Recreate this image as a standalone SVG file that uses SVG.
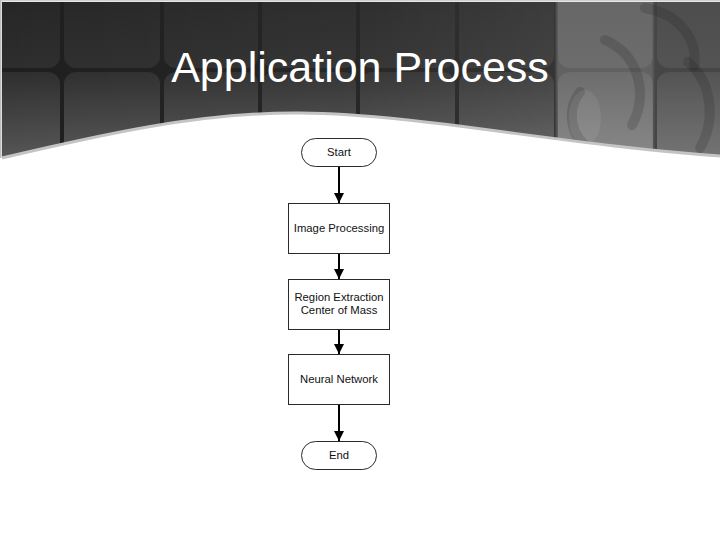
<svg xmlns="http://www.w3.org/2000/svg" width="720" height="540" viewBox="0 0 720 540">
<style>
.node rect{fill:#fff;stroke:#2a2a2a;stroke-width:1}
.node text{font-family:"Liberation Sans",Arial,sans-serif;font-size:11.3px;fill:#111;text-anchor:middle}
.conn line{stroke:#000;stroke-width:2}
.title{font-family:"Liberation Sans",Arial,sans-serif;font-size:43px;fill:#fff;text-anchor:middle}
</style>
<defs>
<linearGradient id="vg" x1="0" y1="0" x2="0" y2="160" gradientUnits="userSpaceOnUse">
<stop offset="0" stop-color="#262626"/>
<stop offset="0.45" stop-color="#2e2e2e"/>
<stop offset="1" stop-color="#575757"/>
</linearGradient>
<linearGradient id="hg" x1="0" y1="0" x2="1" y2="0">
<stop offset="0" stop-color="#fff" stop-opacity="0"/>
<stop offset="0.5" stop-color="#fff" stop-opacity="0.04"/>
<stop offset="0.77" stop-color="#fff" stop-opacity="0.1"/>
<stop offset="0.775" stop-color="#fff" stop-opacity="0.3"/>
<stop offset="0.905" stop-color="#fff" stop-opacity="0.3"/>
<stop offset="0.91" stop-color="#fff" stop-opacity="0.18"/>
<stop offset="1" stop-color="#fff" stop-opacity="0.18"/>
</linearGradient>
<clipPath id="hc">
<path d="M2,2 H720 V156 C560,145 420,114 300,113 C200,112 100,135 2,158 Z"/>
</clipPath>
<marker id="ah" viewBox="0 0 10 10" refX="10" refY="5" markerWidth="5" markerHeight="5" orient="auto" markerUnits="strokeWidth">
<path d="M0,0 L10,5 L0,10 Z" fill="#000"/>
</marker>
</defs>
<rect width="720" height="540" fill="#fff"/>
<g id="header" clip-path="url(#hc)">
<rect x="0" y="0" width="720" height="160" fill="#1e1e1e"/>
<g fill="url(#vg)">
<rect x="-38" y="-30" width="98" height="98" rx="12"/>
<rect x="64" y="-30" width="96" height="98" rx="12"/>
<rect x="164" y="-30" width="94" height="98" rx="12"/>
<rect x="262" y="-30" width="94" height="98" rx="12"/>
<rect x="360" y="-30" width="95" height="98" rx="12"/>
<rect x="459" y="-30" width="95" height="98" rx="12"/>
<rect x="558" y="-30" width="95" height="98" rx="12"/>
<rect x="657" y="-30" width="95" height="98" rx="12"/>
<rect x="-38" y="72" width="98" height="98" rx="12"/>
<rect x="64" y="72" width="96" height="98" rx="12"/>
<rect x="164" y="72" width="94" height="98" rx="12"/>
<rect x="262" y="72" width="94" height="98" rx="12"/>
<rect x="360" y="72" width="95" height="98" rx="12"/>
<rect x="459" y="72" width="95" height="98" rx="12"/>
<rect x="558" y="72" width="95" height="98" rx="12"/>
<rect x="657" y="72" width="95" height="98" rx="12"/>
</g>
<rect x="0" y="0" width="720" height="160" fill="url(#hg)"/>
<g fill="none" stroke="#1a1a1a" stroke-opacity="0.18" stroke-width="10" stroke-linecap="round">
<path d="M605,40 C640,55 648,95 632,125"/>
<path d="M688,62 C712,82 716,120 700,148"/>
<path d="M645,8 C680,14 698,40 694,66"/>
<path d="M580,92 C566,110 570,138 592,150"/>
</g>
<ellipse cx="585" cy="118" rx="16" ry="28" fill="#fff" fill-opacity="0.07"/>
</g>
<path d="M2,158 C100,135 200,112 300,113 C420,114 560,145 720,156" fill="none" stroke="#c4c4c4" stroke-width="3"/>
<rect x="0" y="0" width="720" height="1.5" fill="#cfcfcf"/>
<rect x="0" y="0" width="1.5" height="158" fill="#bdbdbd"/>
<text class="title" x="360" y="82">Application Process</text>
<g id="connectors" class="conn">
<line x1="339" y1="166" x2="339" y2="203" marker-end="url(#ah)"/>
<line x1="339" y1="253" x2="339" y2="279" marker-end="url(#ah)"/>
<line x1="339" y1="329" x2="339" y2="354" marker-end="url(#ah)"/>
<line x1="339" y1="405" x2="339" y2="441" marker-end="url(#ah)"/>
</g>
<g id="start" class="node">
<rect x="301.5" y="138.5" width="75" height="28" rx="14"/>
<text x="339" y="156">Start</text>
</g>
<g id="image-processing" class="node">
<rect x="288.5" y="203.5" width="101" height="50"/>
<text x="339" y="232">Image Processing</text>
</g>
<g id="region-extraction" class="node">
<rect x="288.5" y="279.5" width="101" height="50"/>
<text x="339" y="301">Region Extraction</text>
<text x="339" y="314">Center of Mass</text>
</g>
<g id="neural-network" class="node">
<rect x="288.5" y="354.5" width="101" height="50"/>
<text x="339" y="383">Neural Network</text>
</g>
<g id="end" class="node">
<rect x="301.5" y="441.5" width="75" height="28" rx="14"/>
<text x="339" y="459">End</text>
</g>
</svg>
